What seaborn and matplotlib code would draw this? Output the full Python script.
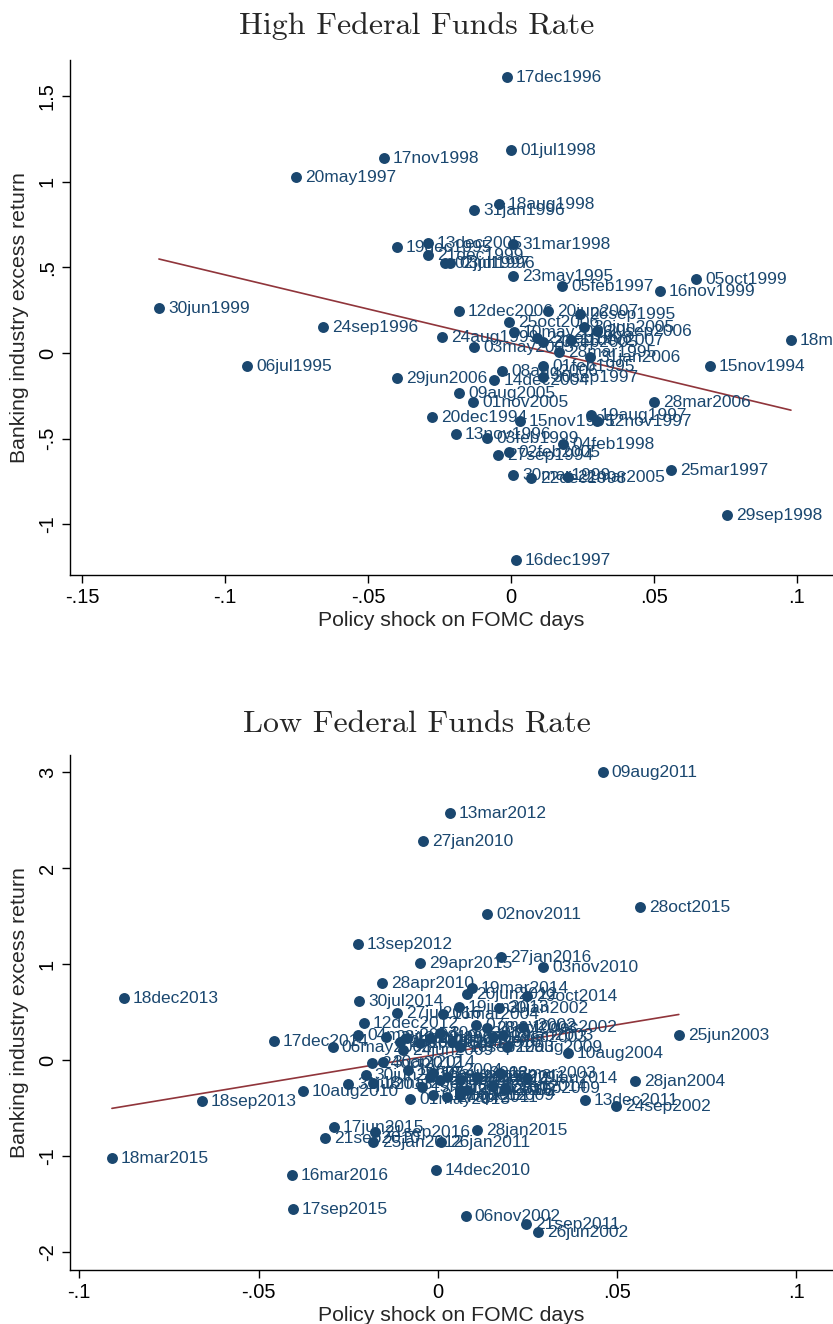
import numpy as np
import pandas as pd
import matplotlib
matplotlib.use("Agg")
import matplotlib.pyplot as plt
from matplotlib.ticker import FuncFormatter, FixedLocator
import seaborn as sns

# ---- High federal funds rate regime: FOMC dates, policy shock, bank excess return ----
high_dates = [
    "17dec1996", "01jul1998", "17nov1998", "20may1997", "18aug1998", "31jan1996",
    "19dec1995", "13dec2005", "31mar1998", "21dec1999", "02jul1997", "03jul1996",
    "23may1995", "05feb1997", "05oct1999", "16nov1999", "30jun1999", "24sep1996",
    "06jul1995", "18may1999", "15nov1994", "12dec2006", "20jun2007", "26sep1995",
    "25oct2006", "24aug1999", "10may2006", "30jun2005", "20sep2006", "22sep1998",
    "20sep2005", "11dec2007", "03may2005", "28mar1995", "31jan2006", "01feb1995",
    "08aug2006", "30sep1997", "29jun2006", "14dec2004", "09aug2005", "01nov2005",
    "28mar2006", "20dec1994", "15nov1995", "19aug1997", "12nov1997", "13nov1996",
    "03feb1999", "04feb1998", "02feb2005", "27sep1994", "30mar1999", "22dec1998",
    "22mar2005", "25mar1997", "29sep1998", "16dec1997",
]
high_shock = [
    -0.0014, 0.0000, -0.0444, -0.0752, -0.0042, -0.0129,
    -0.0399, -0.0290, 0.0007, -0.0290, -0.0231, -0.0213,
    0.0007, 0.0178, 0.0647, 0.0521, -0.1231, -0.0657,
    -0.0923, 0.0979, 0.0696, -0.0182, 0.0129, 0.0241,
    -0.0007, -0.0241, 0.0010, 0.0255, 0.0301, 0.0091,
    0.0112, 0.0210, -0.0129, 0.0168, 0.0276, 0.0112,
    -0.0031, 0.0112, -0.0399, -0.0059, -0.0182, -0.0133,
    0.0500, -0.0276, 0.0031, 0.0280, 0.0301, -0.0192,
    -0.0084, 0.0182, -0.0007, -0.0045, 0.0007, 0.0070,
    0.0199, 0.0559, 0.0755, 0.0017,
]
high_return = [
    1.614, 1.187, 1.140, 1.029, 0.871, 0.836,
    0.620, 0.643, 0.637, 0.573, 0.526, 0.526,
    0.450, 0.392, 0.433, 0.363, 0.263, 0.152,
    -0.076, 0.076, -0.076, 0.246, 0.246, 0.228,
    0.181, 0.094, 0.123, 0.152, 0.129, 0.088,
    0.064, 0.076, 0.035, 0.006, -0.023, -0.076,
    -0.105, -0.140, -0.146, -0.158, -0.234, -0.287,
    -0.287, -0.374, -0.398, -0.363, -0.398, -0.474,
    -0.497, -0.532, -0.579, -0.596, -0.713, -0.731,
    -0.725, -0.684, -0.947, -1.211,
]

# ---- Low federal funds rate regime ----
low_dates = [
    "09aug2011", "13mar2012", "27jan2010", "02nov2011", "28oct2015", "13sep2012",
    "27jan2016", "29apr2015", "03nov2010", "28apr2010", "18dec2013", "19mar2014",
    "20jun2012", "29oct2014", "30jul2014", "19jun2013", "30jan2002", "27jul2016",
    "16mar2004", "12dec2012", "07may2002", "10dec2002", "17dec2014", "04may2004",
    "06may2003", "10aug2004", "28jan2004", "25jun2003", "13dec2011", "24sep2002",
    "18sep2013", "10aug2010", "18mar2003", "29jan2014", "30jun2004", "31jul2013",
    "01may2013", "17jun2015", "21sep2010", "21sep2016", "25jan2012", "26jan2011",
    "28jan2015", "16mar2016", "14dec2010", "18mar2015", "17sep2015", "06nov2002",
    "21sep2011", "26jun2002",
    "23jun2010", "25apr2012", "12aug2003", "24jun2009", "16dec2015", "20mar2013",
    "30oct2013", "15jun2016", "16sep2003", "28oct2003", "09dec2003", "29jan2003",
    "12aug2009", "24oct2012", "30apr2014", "10nov2004", "15mar2011", "29apr2009",
    "13aug2002", "27apr2016", "28jan2009", "18jun2014", "19mar2002", "29jul2015",
    "22jun2011", "01aug2012", "27apr2011", "16dec2009", "18mar2009", "17sep2014",
    "23sep2009",
]
low_shock = [
    0.0460, 0.0033, -0.0042, 0.0137, 0.0563, -0.0223,
    0.0176, -0.0050, 0.0293, -0.0156, -0.0876, 0.0095,
    0.0081, 0.0248, -0.0220, 0.0059, 0.0170, -0.0114,
    0.0014, -0.0206, 0.0106, 0.0237, -0.0457, -0.0223,
    -0.0293, 0.0363, 0.0550, 0.0672, 0.0410, 0.0497,
    -0.0658, -0.0377, 0.0173, 0.0248, -0.0201, -0.0251,
    -0.0078, -0.0290, -0.0315, -0.0176, -0.0181, 0.0008,
    0.0109, -0.0407, -0.0006, -0.0909, -0.0404, 0.0078,
    0.0245, 0.0279,
    -0.0145, -0.0106, -0.0086, -0.0098, -0.0050, -0.0022,
    0.0006, 0.0039, 0.0061, 0.0137, 0.0153, 0.0181,
    0.0192, -0.0184, -0.0153, -0.0084, -0.0045, -0.0022,
    -0.0014, 0.0006, 0.0025, 0.0061, 0.0061, 0.0081,
    0.0109, -0.0014, 0.0025, 0.0061, -0.0181, 0.0153,
    0.0187,
]
low_return = [
    3.000, 2.573, 2.281, 1.521, 1.594, 1.208,
    1.073, 1.010, 0.969, 0.802, 0.646, 0.750,
    0.688, 0.667, 0.615, 0.552, 0.542, 0.490,
    0.479, 0.385, 0.365, 0.344, 0.198, 0.260,
    0.135, 0.073, -0.219, 0.260, -0.417, -0.479,
    -0.427, -0.323, -0.135, -0.188, -0.156, -0.250,
    -0.406, -0.698, -0.813, -0.750, -0.854, -0.854,
    -0.729, -1.198, -1.146, -1.021, -1.552, -1.625,
    -1.708, -1.792,
    0.240, 0.188, 0.229, 0.104, 0.177, 0.229,
    0.281, 0.188, 0.135, 0.333, 0.240, 0.260,
    0.135, -0.031, -0.021, -0.104, -0.281, -0.177,
    -0.135, -0.208, -0.177, -0.208, -0.313, -0.313,
    -0.177, -0.365, -0.385, -0.365, -0.240, -0.271,
    -0.292,
]

high_xticks = [-0.15, -0.10, -0.05, 0.0, 0.05, 0.10]
high_yticks = [-1.0, -0.5, 0.0, 0.5, 1.0, 1.5]
low_xticks = [-0.10, -0.05, 0.0, 0.05, 0.10]
low_yticks = [-2, -1, 0, 1, 2, 3]

NAVY = "#1a476f"
MAROON = "#90353b"

sns.set_theme(style="ticks")
plt.rcParams["font.family"] = ["Liberation Sans", "DejaVu Sans"]
plt.rcParams["axes.unicode_minus"] = False


def stata_num(v, pos=None):
    s = f"{v:g}"
    if s.startswith("0."):
        s = s[1:]
    elif s.startswith("-0."):
        s = "-" + s[2:]
    return s


def panel(ax, dates, shock, ret, xticks, yticks, xlim, ylim):
    df = pd.DataFrame({"date": dates, "shock": shock, "ret": ret})
    sns.regplot(data=df, x="shock", y="ret", scatter=False, ci=None,
                truncate=True, color=MAROON, line_kws={"lw": 1.2}, ax=ax)
    sns.scatterplot(data=df, x="shock", y="ret", s=62, color=NAVY,
                    edgecolor=NAVY, linewidth=0, ax=ax, zorder=3)
    for _, r in df.iterrows():
        ax.annotate(r["date"], (r["shock"], r["ret"]), xytext=(6.5, -0.5),
                    textcoords="offset points", va="center", ha="left",
                    fontsize=12.5, color=NAVY, zorder=4, annotation_clip=False)
    ax.set_xlim(*xlim)
    ax.set_ylim(*ylim)
    ax.xaxis.set_major_locator(FixedLocator(xticks))
    ax.yaxis.set_major_locator(FixedLocator(yticks))
    ax.xaxis.set_major_formatter(FuncFormatter(stata_num))
    ax.yaxis.set_major_formatter(FuncFormatter(stata_num))
    ax.tick_params(axis="both", direction="out", length=6, width=1,
                   labelsize=14.5, color="black", labelcolor="black")
    for lab in ax.get_yticklabels():
        lab.set_rotation(90)
        lab.set_va("center")
    ax.set_xlabel("Policy shock on FOMC days", fontsize=15.3, labelpad=3)
    ax.set_ylabel("Banking industry excess return", fontsize=15.3, labelpad=6)
    sns.despine(ax=ax)
    for sp in ("left", "bottom"):
        ax.spines[sp].set_linewidth(1.0)
        ax.spines[sp].set_color("black")


fig = plt.figure(figsize=(8.33, 13.24), dpi=100)
ax1 = fig.add_axes([0.084, 0.5657, 0.916, 0.389])
ax2 = fig.add_axes([0.084, 0.0408, 0.916, 0.389])

panel(ax1, high_dates, high_shock, high_return, high_xticks, high_yticks,
      (-0.1542, 0.1126), (-1.298, 1.713))
panel(ax2, low_dates, low_shock, low_return, low_xticks, low_yticks,
      (-0.1026, 0.1102), (-2.1875, 3.177))

fig.text(0.5, 0.980, "High Federal Funds Rate", ha="center", va="center",
         fontsize=23, family="cmr10")
fig.text(0.5, 0.4525, "Low Federal Funds Rate", ha="center", va="center",
         fontsize=23, family="cmr10")

fig.savefig("out.png", dpi=100, facecolor="white")
